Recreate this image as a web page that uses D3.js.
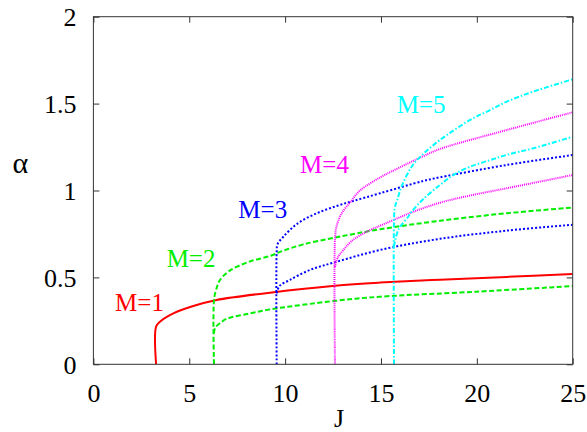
<!DOCTYPE html>
<html>
<head>
<meta charset="utf-8">
<script src="https://cdn.jsdelivr.net/npm/d3@7"></script>
<style>
  html, body { margin: 0; padding: 0; background: #fff; }
  text { font-family: 'Liberation Serif' !important; }
</style>
</head>
<body>
<script>
// tick values / labels
var xTicks = [0, 5, 10, 15, 20, 25];
var yTicks = [0, 0.5, 1, 1.5, 2];
var yTickLabels = ["0", "0.5", "1", "1.5", "2"];

// branches, [J, alpha]
var m1 = [[3.27,0],[3.27,0.217],[3.47,0.245],[4.17,0.293],[5.21,0.335],[6.42,0.37],[9.21,0.412],
          [12.6,0.452],[14.95,0.470],[18.08,0.487],[21.56,0.503],[25,0.52]];
var m2hi = [[6.29,0],[6.29,0.37],[6.4,0.428],[6.6,0.485],[7.13,0.54],[8.17,0.592],[9.21,0.623],
            [9.91,0.654],[10.95,0.690],[12.69,0.731],[14.95,0.777],[18.08,0.826],[21.56,0.869],[25,0.902]];
var m2lo = [[6.29,0.178],[6.35,0.21],[6.6,0.236],[6.95,0.262],[8.17,0.293],[9.21,0.316],[12.69,0.366],
            [14.95,0.389],[20,0.418],[25,0.45]];
var m3hi = [[9.56,0],[9.56,0.648],[9.6,0.69],[9.91,0.734],[10.61,0.807],[11.65,0.869],[12.69,0.911],
            [13.56,0.94],[14.95,0.984],[17.21,1.055],[18.08,1.076],[21.56,1.147],[25,1.204]];
var m3lo = [[9.56,0.408],[9.7,0.45],[10.24,0.485],[11.3,0.543],[12.69,0.590],[14.95,0.658],
            [18.08,0.722],[21.56,0.769],[25,0.803]];
var m4hi = [[12.6,0],[12.6,0.715],[12.68,0.792],[12.95,0.869],[13.38,0.93],[13.91,1.0],[14.95,1.075],
            [15.56,1.11],[17.2,1.197],[18.08,1.239],[21.56,1.348],[25,1.45]];
var m4lo = [[12.6,0.56],[12.75,0.615],[13.04,0.658],[13.5,0.712],[14.34,0.768],[14.95,0.797],[15.56,0.826],
            [16.6,0.874],[18.08,0.930],[19.6,0.97],[21.56,1.013],[25,1.089]];
var m5hi = [[15.68,0],[15.68,0.83],[15.72,0.9],[15.86,0.95],[16.07,1.022],[16.6,1.137],[17.14,1.204],
            [18.08,1.291],[19.65,1.406],[20.69,1.463],[21.56,1.511],[22.95,1.569],[25,1.64]];
var m5lo = [[15.68,0.677],[15.75,0.72],[15.9,0.773],[16.0,0.792],[16.42,0.849],[16.6,0.878],[17.2,0.95],
            [18.08,1.032],[18.77,1.089],[19.65,1.137],[20.69,1.175],[21.56,1.205],[22.95,1.243],[25,1.31]];

var labels = ["M=1", "M=2", "M=3", "M=4", "M=5"];

var width = 587, height = 432;
var margin = {top: 16.7, right: 14.3, bottom: 67.7, left: 93.4};
var w = width - margin.left - margin.right;
var h = height - margin.top - margin.bottom;

var styles = [
    {color: "#ff0000", dash: null},
    {color: "#00ee00", dash: "5,2.5"},
    {color: "#0000ff", dash: "2,2"},
    {color: "#ff00ff", dash: "1,1"},
    {color: "#00ffff", dash: "5,2,1.5,2"}
];
var series = [
    {m: 0, pts: m1},
    {m: 1, pts: m2hi}, {m: 1, pts: m2lo},
    {m: 2, pts: m3hi}, {m: 2, pts: m3lo},
    {m: 3, pts: m4hi}, {m: 3, pts: m4lo},
    {m: 4, pts: m5hi}, {m: 4, pts: m5lo}
];

var svg = d3.select("body").append("svg")
    .attr("width", width).attr("height", height)
    .append("g")
    .attr("transform", "translate(" + margin.left + "," + margin.top + ")");

var x = d3.scaleLinear().domain([0, 25]).range([0, w]);
var y = d3.scaleLinear().domain([0, 2]).range([h, 0]);

var line = d3.line()
    .x(function(d) { return x(d[0]); })
    .y(function(d) { return y(d[1]); })
    .curve(d3.curveCatmullRom.alpha(0.5));

svg.append("defs").append("clipPath").attr("id", "clip")
    .append("rect").attr("width", w).attr("height", h);

svg.append("g").attr("clip-path", "url(#clip)")
    .selectAll(".branch").data(series)
    .enter().append("path").attr("class", "branch")
    .attr("d", function(d) { return line(d.pts); })
    .attr("fill", "none")
    .attr("stroke", function(d) { return styles[d.m].color; })
    .attr("stroke-width", 2)
    .attr("stroke-dasharray", function(d) { return styles[d.m].dash; });

// axes, ticks pointing inwards on all four sides
var fmt = function(d) { return yTickLabels[yTicks.indexOf(d)]; };
var gb = svg.append("g").attr("transform", "translate(0," + h + ")")
    .call(d3.axisBottom(x).tickValues(xTicks).tickSize(-6).tickPadding(19).tickFormat(d3.format("d")));
var gt = svg.append("g")
    .call(d3.axisTop(x).tickValues(xTicks).tickSize(-6).tickFormat(""));
var gl = svg.append("g")
    .call(d3.axisLeft(y).tickValues(yTicks).tickSize(-6).tickPadding(17).tickFormat(fmt));
var gr = svg.append("g").attr("transform", "translate(" + w + ",0)")
    .call(d3.axisRight(y).tickValues(yTicks).tickSize(-6).tickFormat(""));

[gb, gt, gl, gr].forEach(function(g) {
    g.attr("font-family", null).attr("font-size", null);
    g.select(".domain").remove();
    g.selectAll(".tick line").attr("stroke", "#333");
    g.selectAll("text").attr("fill", "#000").style("font-size", "26px");
});
gl.selectAll("text").attr("dy", "0.34em");

svg.append("rect").attr("width", w).attr("height", h)
    .attr("fill", "none").attr("stroke", "#333").attr("stroke-width", 1);

// branch labels
var labelAt = [[1.13, 0.307], [3.82, 0.558], [7.56, 0.840], [10.78, 1.099], [15.82, 1.444]];
svg.selectAll(".mlabel").data(labels)
    .enter().append("text").attr("class", "mlabel")
    .attr("x", function(d, i) { return x(labelAt[i][0]); })
    .attr("y", function(d, i) { return y(labelAt[i][1]); })
    .style("font-size", "25px")
    .attr("fill", function(d, i) { return styles[i].color; })
    .text(function(d) { return d; });

svg.append("text").attr("x", x(12.82)).attr("y", h + 63)
    .attr("text-anchor", "middle").style("font-size", "26px").text("J");
svg.append("text").attr("x", -73).attr("y", y(1.103))
    .attr("text-anchor", "middle").style("font-size", "30px").text("α");
</script>
</body>
</html>
